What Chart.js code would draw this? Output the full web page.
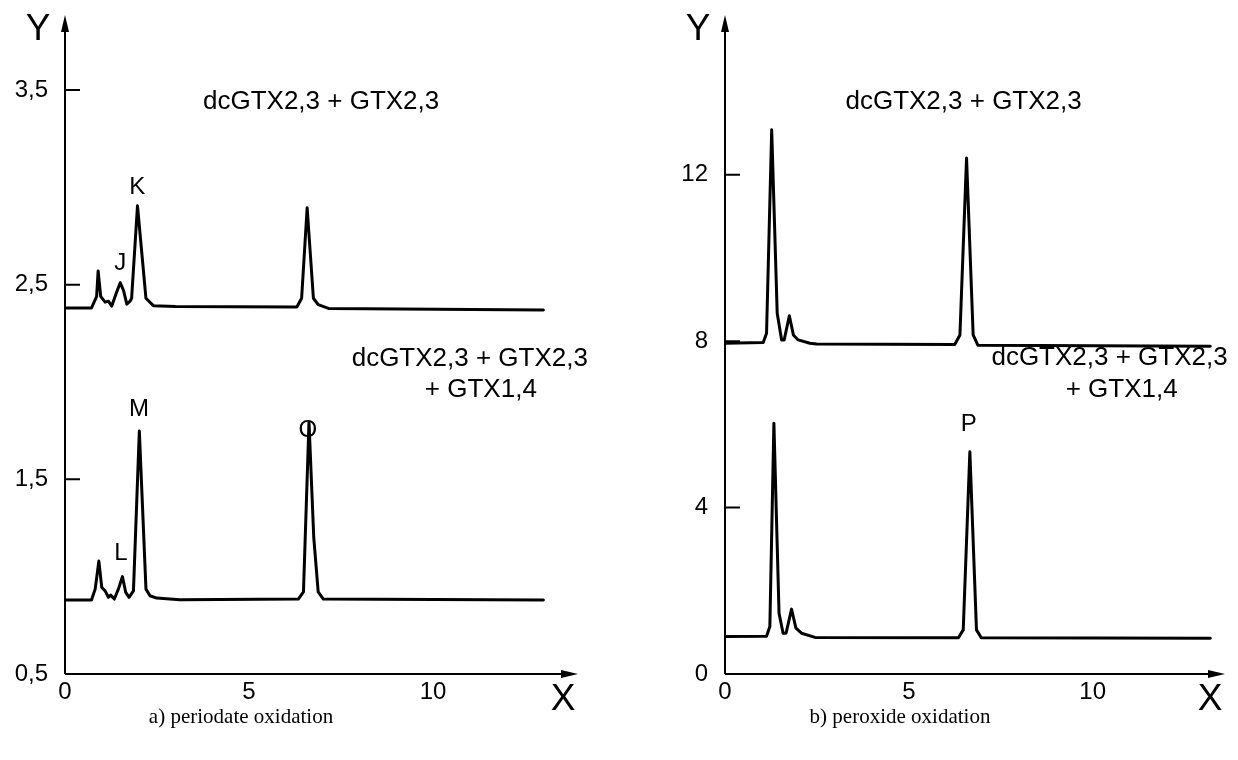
<!DOCTYPE html>
<html>
<head>
<meta charset="utf-8">
<script src="https://cdn.jsdelivr.net/npm/chart.js@4.4.1/dist/chart.umd.min.js"></script>
<style>
  body { margin:0; background:#fff; width:1238px; height:760px; position:relative; overflow:hidden; }
  .pane { position:absolute; top:0; height:760px; }
  .pane canvas { position:absolute; top:0; left:0; }
  .cap { position:absolute; top:704px; font-family:"Liberation Serif", serif; font-size:21px; color:#000;
         white-space:nowrap; transform:translateX(-50%); }
</style>
</head>
<body>
<div class="pane" style="left:0;width:620px"><canvas id="chart-a" width="620" height="760"></canvas></div>
<div class="pane" style="left:620px;width:618px"><canvas id="chart-b" width="618" height="760"></canvas></div>
<div class="cap" style="left:241px">a) periodate oxidation</div>
<div class="cap" style="left:900px">b) peroxide oxidation</div>
<script>
// ── data (retention time, detector signal) ────────────────────────────────────
// a) periodate oxidation
const aUpperX = [0, 0.72, 0.86, 0.90, 0.97, 1.09, 1.18, 1.27, 1.40, 1.50, 1.59, 1.68, 1.77, 1.81, 1.97, 2.20, 2.40, 3.0, 6.30, 6.43, 6.58, 6.75, 6.88, 7.16, 13.0];
const aUpperY = [2.38, 2.38, 2.44, 2.57, 2.44, 2.41, 2.415, 2.39, 2.46, 2.51, 2.47, 2.40, 2.415, 2.43, 2.905, 2.43, 2.392, 2.388, 2.385, 2.43, 2.895, 2.43, 2.397, 2.378, 2.37];
const aLowerX = [0, 0.72, 0.82, 0.92, 1.00, 1.09, 1.18, 1.24, 1.34, 1.45, 1.56, 1.65, 1.74, 1.86, 2.02, 2.20, 2.31, 2.49, 3.12, 6.34, 6.48, 6.63, 6.76, 6.88, 7.02, 13.0];
const aLowerY = [0.88, 0.88, 0.936, 1.08, 0.944, 0.927, 0.894, 0.905, 0.885, 0.936, 1.00, 0.919, 0.894, 0.927, 1.748, 0.936, 0.902, 0.89, 0.882, 0.885, 0.922, 1.794, 1.20, 0.922, 0.885, 0.88];
// b) peroxide oxidation
const bUpperX = [0, 1.04, 1.13, 1.27, 1.42, 1.54, 1.61, 1.75, 1.86, 1.99, 2.31, 2.49, 6.25, 6.39, 6.57, 6.75, 6.88, 13.2];
const bUpperY = [7.95, 7.97, 8.19, 13.08, 8.67, 8.03, 8.03, 8.61, 8.15, 8.03, 7.95, 7.93, 7.92, 8.15, 12.4, 8.15, 7.9, 7.88];
const bLowerX = [0, 1.13, 1.22, 1.33, 1.47, 1.58, 1.66, 1.81, 1.93, 2.08, 2.45, 6.35, 6.48, 6.66, 6.84, 6.97, 13.2];
const bLowerY = [0.90, 0.91, 1.14, 6.03, 1.46, 0.98, 0.98, 1.56, 1.10, 0.98, 0.88, 0.87, 1.06, 5.34, 1.06, 0.87, 0.86];

const aYTicks = [0.5, 1.5, 2.5, 3.5];
const bYTicks = [0, 4, 8, 12];
const xTicks  = [0, 5, 10];

// text labels placed in data coordinates (size = font px)
const aNotes = [
  { text:'dcGTX2,3 + GTX2,3', x:6.96, y:3.44, size:26 },
  { text:'dcGTX2,3 + GTX2,3', x:11.0, y:2.12, size:26 },
  { text:'+ GTX1,4',          x:11.3, y:1.96, size:26 },
  { text:'K', x:1.96, y:3.00, size:24 }, { text:'J', x:1.50, y:2.61, size:24 },
  { text:'M', x:2.01, y:1.86, size:24 }, { text:'L', x:1.52, y:1.12, size:24 },
  { text:'O', x:6.60, y:1.75, size:24 },
];
const bNotes = [
  { text:'dcGTX2,3 + GTX2,3', x:6.49, y:13.75, size:26 },
  { text:'dcGTX2,3 + GTX2,3', x:10.46, y:7.6, size:26 },
  { text:'+ GTX1,4',          x:10.79, y:6.83, size:26 },
  { text:'P', x:6.63, y:6.0, size:24 },
];

const pts = (xs, ys) => xs.map((x, i) => ({ x, y: ys[i] }));
const fmt = v => String(v).replace('.', ',');
const FONT = '"Liberation Sans", Arial, sans-serif';

// ── axes with arrows, inner ticks, axis letters, annotations ──────────────────
const axesPlugin = {
  id: 'axes',
  afterDraw(chart, args, opts) {
    const { ctx, chartArea: a, scales: { x, y } } = chart;
    ctx.save();
    ctx.strokeStyle = '#000'; ctx.fillStyle = '#000'; ctx.lineWidth = 2;
    // axis lines
    ctx.beginPath();
    ctx.moveTo(a.left, a.bottom); ctx.lineTo(a.left, a.top + 12);
    ctx.moveTo(a.left, a.bottom); ctx.lineTo(a.right - 12, a.bottom);
    ctx.stroke();
    // arrow heads
    ctx.beginPath();
    ctx.moveTo(a.left, a.top); ctx.lineTo(a.left - 4, a.top + 17); ctx.lineTo(a.left + 4, a.top + 17); ctx.closePath();
    ctx.moveTo(a.right, a.bottom); ctx.lineTo(a.right - 17, a.bottom - 4); ctx.lineTo(a.right - 17, a.bottom + 4); ctx.closePath();
    ctx.fill();
    // inner y ticks
    ctx.beginPath();
    opts.yTicks.forEach(v => {
      const py = y.getPixelForValue(v);
      if (Math.abs(py - a.bottom) < 2) return;
      ctx.moveTo(a.left, py); ctx.lineTo(a.left + 15, py);
    });
    ctx.stroke();
    // axis letters
    ctx.font = '37px ' + FONT; ctx.textAlign = 'center'; ctx.textBaseline = 'middle';
    ctx.fillText('Y', a.left - 27, a.top + 15);
    ctx.fillText('X', a.right - 15, a.bottom + 26);
    // annotations
    opts.notes.forEach(n => {
      ctx.font = n.size + 'px ' + FONT;
      ctx.fillText(n.text, x.getPixelForValue(n.x), y.getPixelForValue(n.y));
    });
    ctx.restore();
  }
};

function makeChart(id, series, xMax, yMin, yMax, yTicks, notes, yWidth, padRight) {
  return new Chart(document.getElementById(id), {
    type: 'line',
    data: { datasets: series.map(s => ({ data: s, borderColor: '#000', borderWidth: 3, pointRadius: 0,
                                         tension: 0, fill: false, borderJoinStyle: 'round', borderCapStyle: 'round' })) },
    options: {
      responsive: false, animation: false, events: [],
      layout: { padding: { top: 15, right: padRight, left: 0, bottom: 0 } },
      plugins: { legend: { display: false }, tooltip: { enabled: false }, axes: { yTicks, notes } },
      scales: {
        x: {
          type: 'linear', min: 0, max: xMax,
          grid: { display: false, drawTicks: false }, border: { display: false },
          afterBuildTicks: s => { s.ticks = xTicks.map(v => ({ value: v })); },
          afterFit: s => { s.height = 86; s.paddingLeft = 0; s.paddingRight = 0; },
          ticks: { color: '#000', padding: 4, font: { family: FONT, size: 24 }, maxRotation: 0 },
        },
        y: {
          type: 'linear', min: yMin, max: yMax,
          grid: { display: false, drawTicks: false }, border: { display: false },
          afterBuildTicks: s => { s.ticks = yTicks.map(v => ({ value: v })); },
          afterFit: s => { s.width = yWidth; s.paddingTop = 0; s.paddingBottom = 0; },
          ticks: { color: '#000', padding: 17, font: { family: FONT, size: 24 }, callback: v => fmt(v) },
        },
      },
    },
    plugins: [axesPlugin],
  });
}

makeChart('chart-a', [pts(aUpperX, aUpperY), pts(aLowerX, aLowerY)], 13.94, 0.5, 3.885, aYTicks, aNotes, 65, 42);
makeChart('chart-b', [pts(bUpperX, bUpperY), pts(bLowerX, bLowerY)], 13.6, 0, 15.84, bYTicks, bNotes, 105, 13);
</script>
</body>
</html>
